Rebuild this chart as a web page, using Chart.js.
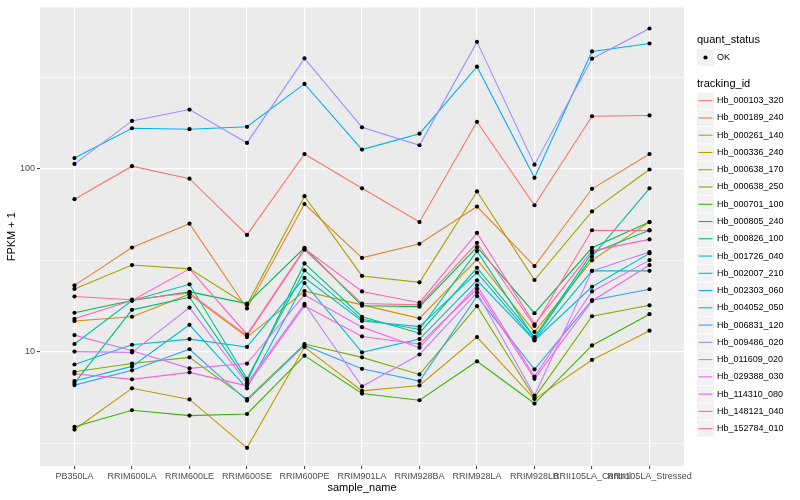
<!DOCTYPE html>
<html>
<head>
<meta charset="utf-8">
<script src="https://cdn.jsdelivr.net/npm/chart.js@4.4.1/dist/chart.umd.min.js"></script>
<style>
html, body { margin: 0; padding: 0; background: #fff; }
#wrap { width: 800px; height: 500px; position: relative; }
</style>
</head>
<body>
<div id="wrap"><canvas id="fpkmChart"></canvas></div>
<script>
// samples on the x axis
var samples = ['PB350LA', 'RRIM600LA', 'RRIM600LE', 'RRIM600SE', 'RRIM600PE', 'RRIM901LA',
    'RRIM928BA', 'RRIM928LA', 'RRIM928LB', 'RRII105LA_Control', 'RRII105LA_Stressed'];

// FPKM + 1 per tracking id, one value per sample
var hb_000103_320 = [68, 103, 88, 43.4, 120, 78, 51, 180, 63, 193, 195];
var hb_000189_240 = [23, 37, 50, 17.2, 64, 32.5, 38.8, 62, 29.3, 77.5, 120];
var hb_000261_140 = [14.7, 15.5, 20.6, 12.0, 21.4, 18.0, 15.2, 31.9, 12.8, 31.5, 51];
var hb_000336_240 = [3.75, 6.3, 5.48, 2.98, 10.6, 6.1, 6.53, 12.0, 5.5, 9.0, 13.0];
var hb_000638_170 = [22, 29.7, 28.3, 18.0, 70.6, 25.9, 23.9, 75, 24.6, 58.3, 98.8];
var hb_000638_250 = [7.76, 8.6, 9.3, 5.5, 11.0, 9.3, 7.5, 17.7, 5.6, 15.6, 17.9];
var hb_000701_100 = [3.88, 4.78, 4.47, 4.56, 9.5, 5.9, 5.42, 8.85, 5.2, 10.8, 16];
var hb_000805_240 = [16.3, 19.0, 21.2, 18.3, 36.9, 17.8, 17.6, 37.2, 16.2, 36.9, 51];
var hb_000826_100 = [6.73, 16.9, 19.8, 6.9, 30.3, 15.5, 12.6, 28.7, 12.0, 34.6, 46];
var hb_001726_040 = [11.0, 19.0, 23.3, 7.1, 27.8, 15.0, 13.2, 35.4, 11.8, 33, 78];
var hb_002007_210 = [8.5, 10.9, 11.7, 10.6, 25.3, 14.7, 13.7, 27.0, 11.6, 27.6, 27.6];
var hb_002303_060 = [6.9, 8.3, 14.0, 6.3, 23.7, 9.9, 11.7, 24.5, 11.5, 22.6, 34.4];
var hb_004052_050 = [114, 166, 164, 169, 290, 127, 155, 360, 89, 436, 482];
var hb_006831_120 = [6.56, 7.9, 10.3, 5.4, 10.8, 8.05, 6.9, 20.1, 8.0, 19.1, 21.9];
var hb_009486_020 = [106, 182, 210, 138, 400, 168, 134, 492, 105, 398, 582];
var hb_011609_020 = [10.0, 9.9, 17.4, 6.7, 18.2, 6.45, 9.64, 21.0, 5.75, 27.6, 35];
var hb_029388_030 = [12.3, 10.1, 8.1, 8.6, 20.4, 13.6, 10.5, 23.0, 7.3, 21.3, 31.6];
var hb_114310_080 = [7.57, 7.05, 7.7, 6.5, 17.8, 12.1, 11.0, 22.0, 7.1, 18.9, 29.7];
var hb_148121_040 = [15.1, 19.0, 28.3, 12.4, 36.5, 21.3, 18.5, 44.5, 14.1, 35.5, 41];
var hb_152784_010 = [20.0, 19.2, 20.9, 12.2, 36.0, 18.3, 18.0, 39.3, 13.8, 46, 45.9];

var trackingIds = ['Hb_000103_320', 'Hb_000189_240', 'Hb_000261_140', 'Hb_000336_240', 'Hb_000638_170',
    'Hb_000638_250', 'Hb_000701_100', 'Hb_000805_240', 'Hb_000826_100', 'Hb_001726_040',
    'Hb_002007_210', 'Hb_002303_060', 'Hb_004052_050', 'Hb_006831_120', 'Hb_009486_020',
    'Hb_011609_020', 'Hb_029388_030', 'Hb_114310_080', 'Hb_148121_040', 'Hb_152784_010'];
var seriesValues = [hb_000103_320, hb_000189_240, hb_000261_140, hb_000336_240, hb_000638_170,
    hb_000638_250, hb_000701_100, hb_000805_240, hb_000826_100, hb_001726_040,
    hb_002007_210, hb_002303_060, hb_004052_050, hb_006831_120, hb_009486_020,
    hb_011609_020, hb_029388_030, hb_114310_080, hb_148121_040, hb_152784_010];
var yTicks = [10, 100];
var yMinorTicks = [3.1623, 31.623, 316.23];

// ggplot hue palette, 20 levels
var palette = ['#F8766D', '#EA8331', '#D89000', '#C09B00', '#A3A500', '#7CAE00', '#39B600', '#00BB4E',
    '#00BF7D', '#00C1A3', '#00BFC4', '#00BAE0', '#00B0F6', '#35A2FF', '#9590FF', '#C77CFF',
    '#E76BF3', '#FA62DB', '#FF62BC', '#FF6C91'];

var FONT = '"Liberation Sans", Arial, Helvetica, sans-serif';

var datasets = [];
var allPoints = [];
seriesValues.forEach(function (vals, i) {
    datasets.push({
        label: trackingIds[i],
        data: vals.map(function (v, j) { return {x: j, y: v}; }),
        borderColor: palette[i],
        backgroundColor: palette[i],
        borderWidth: 1.1,
        pointRadius: 0,
        tension: 0,
        order: 20 - i
    });
    vals.forEach(function (v, j) { allPoints.push({x: j, y: v}); });
});
datasets.push({
    label: 'OK',
    data: allPoints,
    showLine: false,
    pointRadius: 2.1,
    pointBackgroundColor: '#000',
    pointBorderWidth: 0,
    order: -1
});

var panelBg = {
    id: 'panelBg',
    beforeDraw: function (chart) {
        var a = chart.chartArea, ctx = chart.ctx;
        ctx.save();
        ctx.fillStyle = '#fff';
        ctx.fillRect(0, 0, chart.width, chart.height);
        ctx.fillStyle = '#EBEBEB';
        ctx.fillRect(a.left, a.top, a.right - a.left, a.bottom - a.top);
        ctx.restore();
    }
};

var ggLegend = {
    id: 'ggLegend',
    afterDraw: function (chart) {
        var ctx = chart.ctx, a = chart.chartArea;
        ctx.save();
        // axis titles
        ctx.fillStyle = '#000';
        ctx.font = '11px ' + FONT;
        ctx.textAlign = 'center';
        ctx.textBaseline = 'middle';
        ctx.fillText('sample_name', (a.left + a.right) / 2, 488);
        ctx.save();
        ctx.translate(12, (a.top + a.bottom) / 2);
        ctx.rotate(-Math.PI / 2);
        ctx.fillText('FPKM + 1', 0, 0);
        ctx.restore();

        // quant_status legend
        ctx.textAlign = 'left';
        ctx.fillText('quant_status', 697, 40);
        ctx.fillStyle = '#F2F2F2';
        ctx.fillRect(697, 49, 17, 17);
        ctx.fillStyle = '#000';
        ctx.beginPath();
        ctx.arc(705.5, 57.5, 2.1, 0, Math.PI * 2);
        ctx.fill();
        ctx.font = '9px ' + FONT;
        ctx.fillText('OK', 717, 57.5);

        // tracking_id legend
        ctx.font = '11px ' + FONT;
        ctx.fillText('tracking_id', 697, 84);
        ctx.font = '9px ' + FONT;
        var step = 17.26;
        trackingIds.forEach(function (id, i) {
            var cy = 100.7 + i * step;
            ctx.fillStyle = '#F2F2F2';
            ctx.fillRect(697, cy - 8.1, 17, 16.3);
            ctx.strokeStyle = palette[i];
            ctx.lineWidth = 1.1;
            ctx.beginPath();
            ctx.moveTo(698.5, cy);
            ctx.lineTo(712.5, cy);
            ctx.stroke();
            ctx.fillStyle = '#000';
            ctx.fillText(id, 717, cy);
        });
        ctx.restore();
    }
};

var chart = new Chart(document.getElementById('fpkmChart').getContext('2d'), {
    type: 'line',
    data: {datasets: datasets},
    options: {
        responsive: true,
        maintainAspectRatio: false,
        animation: false,
        events: [],
        layout: {padding: {left: 0, right: 116, top: 5, bottom: 0}},
        plugins: {legend: {display: false}, tooltip: {enabled: false}},
        scales: {
            x: {
                type: 'linear',
                min: -0.6,
                max: 10.6,
                afterBuildTicks: function (scale) {
                    scale.ticks = samples.map(function (s, j) { return {value: j}; });
                },
                afterFit: function (scale) { scale.height = 34; },
                border: {display: false},
                grid: {color: '#fff', lineWidth: 1.2, tickLength: 3, tickColor: '#333333', tickWidth: 1},
                ticks: {
                    autoSkip: false,
                    maxRotation: 0,
                    padding: 2,
                    color: '#4D4D4D',
                    font: {family: FONT, size: 9},
                    callback: function (v) { return samples[v]; }
                }
            },
            y: {
                type: 'logarithmic',
                min: 2.371,
                max: 759,
                afterBuildTicks: function (scale) {
                    var t = yMinorTicks.concat(yTicks).sort(function (a, b) { return a - b; });
                    scale.ticks = t.map(function (v) { return {value: v}; });
                },
                afterFit: function (scale) { scale.width = 40; },
                border: {display: false},
                grid: {
                    color: '#fff',
                    lineWidth: function (c) { return yTicks.indexOf(c.tick.value) >= 0 ? 1.2 : 0.7; },
                    tickLength: 3,
                    tickColor: function (c) { return yTicks.indexOf(c.tick.value) >= 0 ? '#333333' : 'rgba(0,0,0,0)'; },
                    tickWidth: 1
                },
                ticks: {
                    padding: 2,
                    color: '#4D4D4D',
                    font: {family: FONT, size: 9},
                    callback: function (v) { return yTicks.indexOf(v) >= 0 ? String(v) : ''; }
                }
            }
        }
    },
    plugins: [panelBg, ggLegend]
});
</script>
</body>
</html>
